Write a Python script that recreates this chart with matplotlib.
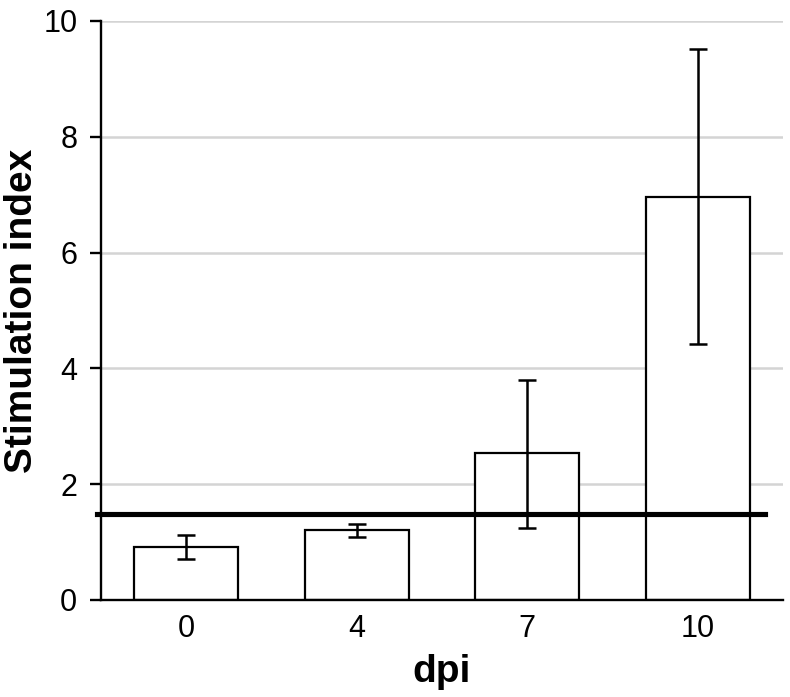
import matplotlib
matplotlib.use('Agg')
import matplotlib.pyplot as plt
import numpy as np

plt.rcParams['font.family'] = ['Liberation Sans', 'DejaVu Sans']

# data
groups    = ['0', '4', '7', '10']
means     = [0.91, 1.21, 2.54, 6.96]
err_low   = [0.71, 1.09, 1.24, 4.42]
err_high  = [1.12, 1.31, 3.80, 9.52]
threshold = 1.48

means = np.array(means)
yerr = np.array([means - np.array(err_low), np.array(err_high) - means])
xpos = np.arange(len(groups))

fig = plt.figure(figsize=(7.9, 6.97), dpi=100)
ax = fig.add_axes([0.1278, 0.1392, 0.9911 - 0.1278, 0.9699 - 0.1392])

# grid
for yv in [2, 4, 6, 8, 10]:
    ax.axhline(yv, color='#d4d4d4', lw=1.8, zorder=0)

ax.bar(xpos, means, width=0.61, color='white', edgecolor='black', lw=1.6, zorder=2)
ax.errorbar(xpos, means, yerr=yerr, fmt='none', ecolor='black', elinewidth=1.8,
            capsize=6.3, capthick=1.8, zorder=3)

# threshold line
ax.axhline(threshold, xmin=-0.006, xmax=0.974, color='black', lw=3.7, zorder=4, clip_on=False)

ax.set_xlim(-0.5, 3.5)
ax.set_ylim(0, 10)
ax.set_yticks([0, 2, 4, 6, 8, 10])
ax.set_xticks(xpos)
ax.set_xticklabels(groups)

for s in ['top', 'right']:
    ax.spines[s].set_visible(False)
ax.spines['left'].set_linewidth(1.7)
ax.spines['bottom'].set_linewidth(1.7)
ax.spines['left'].set_zorder(5)
ax.spines['bottom'].set_zorder(5)

ax.tick_params(axis='y', direction='out', length=8, width=1.7, pad=9, labelsize=22)
ax.tick_params(axis='x', length=0, pad=10, labelsize=22)

ax.set_ylabel('Stimulation index', fontsize=28, fontweight='bold')
ax.yaxis.set_label_coords(-0.089, 0.5)
ax.set_xlabel('dpi', fontsize=28, fontweight='bold', labelpad=7)

fig.savefig('out.png', dpi=100)
